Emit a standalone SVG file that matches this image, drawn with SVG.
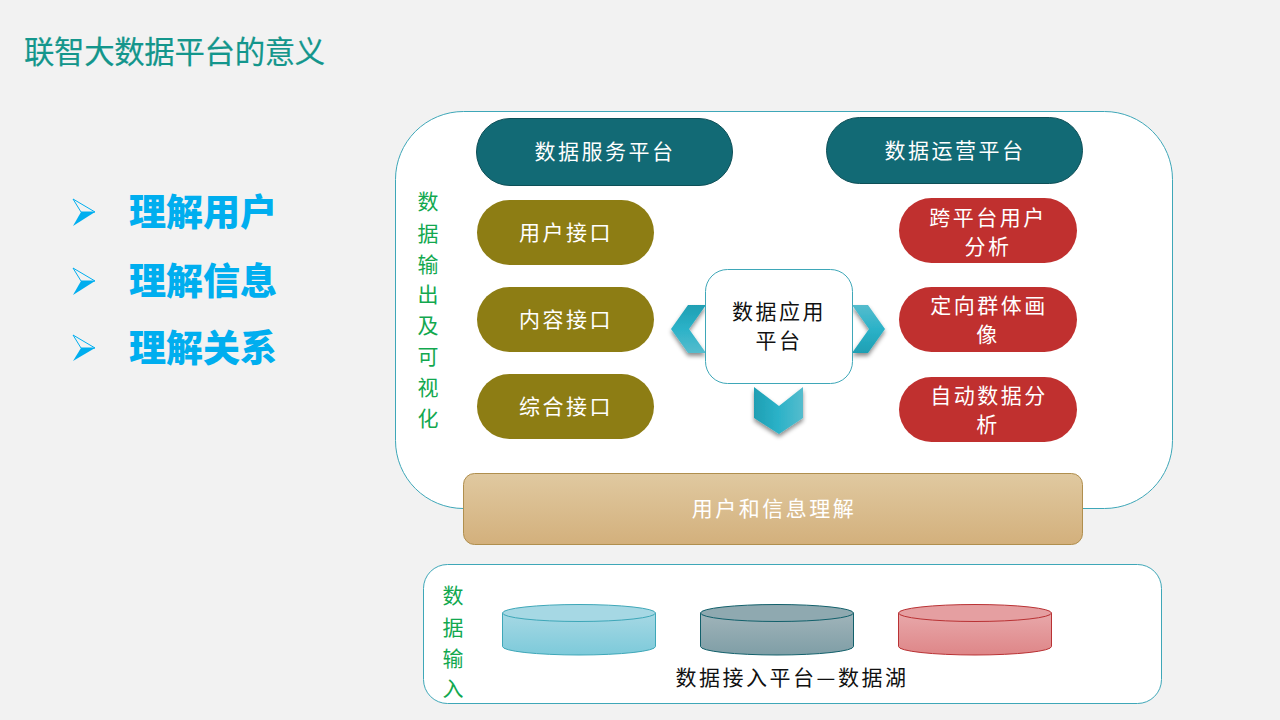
<svg xmlns="http://www.w3.org/2000/svg" width="1280" height="720" viewBox="0 0 1280 720">
<style>
text{font-family:"Noto Sans CJK SC","Noto Sans",sans-serif;text-anchor:middle}
.panel{fill:#fff;stroke:#3ea7b8;stroke-width:1}
.teal{fill:#126a75;stroke:#0d4f57;stroke-width:1}
.olive{fill:#8d7d14}
.red{fill:#c0302f}
.w{fill:#fff;font-size:21px;letter-spacing:2.500px}
.k{fill:#111;font-size:21px;letter-spacing:2.500px}
.g{fill:#12a84f;font-size:21px}
.b{fill:#00aeef;font-size:37px;font-weight:900;text-anchor:start}
.ar{fill:#f2f2f2;stroke:#00aeef;stroke-width:1}
.ar2{fill:#00aeef}
.chev{filter:url(#sh)}
</style>
<defs>
<linearGradient id="ch1" x1="0" y1="0" x2="0" y2="1"><stop offset="0" stop-color="#1f9fb3"/><stop offset="0.5" stop-color="#2bb2c8"/><stop offset="1" stop-color="#55bccd"/></linearGradient>
<linearGradient id="ch2" x1="0" y1="0" x2="0" y2="1"><stop offset="0" stop-color="#55bccd"/><stop offset="0.5" stop-color="#2bb2c8"/><stop offset="1" stop-color="#1f9fb3"/></linearGradient>
<linearGradient id="ch3" x1="0" y1="0" x2="1" y2="0"><stop offset="0" stop-color="#1f9fb3"/><stop offset="0.5" stop-color="#2bb2c8"/><stop offset="1" stop-color="#55bccd"/></linearGradient>
<linearGradient id="tan" x1="0" y1="0" x2="0" y2="1"><stop offset="0" stop-color="#e0c9a0"/><stop offset="1" stop-color="#d3b07c"/></linearGradient>
<linearGradient id="c1" x1="0" y1="0" x2="0" y2="1"><stop offset="0" stop-color="#a6d8e4"/><stop offset="1" stop-color="#7dcada"/></linearGradient>
<linearGradient id="c2" x1="0" y1="0" x2="0" y2="1"><stop offset="0" stop-color="#a0b4ba"/><stop offset="1" stop-color="#7f9ea6"/></linearGradient>
<linearGradient id="c3" x1="0" y1="0" x2="0" y2="1"><stop offset="0" stop-color="#e8a8aa"/><stop offset="1" stop-color="#de8688"/></linearGradient>
<filter id="sh" x="-30%" y="-30%" width="160%" height="160%"><feDropShadow dx="0" dy="3" stdDeviation="2" flood-color="#000" flood-opacity="0.45"/></filter>
</defs>
<rect width="1280" height="720" fill="#f2f2f2"/>
<text id="title" x="24" y="63" style="text-anchor:start;font-size:30.400px;fill:#13968c;stroke:#13968c;stroke-width:0.200px;letter-spacing:-0.300px">联智大数据平台的意义</text>

<g id="item-1"><path class="ar" d="M73 199L95 212L81 212Z"/><path class="ar2" d="M95 212L73 226L81 212Z"/><text class="b" x="129" y="226">理解用户</text></g>
<g id="item-2"><path class="ar" d="M73 268L95 281L81 281Z"/><path class="ar2" d="M95 281L73 295L81 281Z"/><text class="b" x="129" y="295">理解信息</text></g>
<g id="item-3"><path class="ar" d="M73 335L95 348L81 348Z"/><path class="ar2" d="M95 348L73 361L81 348Z"/><text class="b" x="129" y="362">理解关系</text></g>

<g id="output-panel"><rect class="panel" x="395.500" y="111.500" width="777" height="397" rx="68" ry="68"/>
<text class="g"><tspan x="428" y="209">数</tspan><tspan x="428" y="241">据</tspan><tspan x="428" y="272">输</tspan><tspan x="428" y="302">出</tspan><tspan x="428" y="333">及</tspan><tspan x="428" y="364">可</tspan><tspan x="428" y="395">视</tspan><tspan x="428" y="426">化</tspan></text></g>

<g id="data-service"><rect class="teal" x="476.500" y="118.500" width="256" height="67" rx="33.500"/><text class="w" x="605" y="159">数据服务平台</text></g>
<g id="data-ops"><rect class="teal" x="826.500" y="117.500" width="256" height="66" rx="33"/><text class="w" x="955" y="158">数据运营平台</text></g>

<g id="api-user"><rect class="olive" x="477" y="200" width="177" height="65" rx="32.500"/><text class="w" x="566" y="240">用户接口</text></g>
<g id="api-content"><rect class="olive" x="477" y="287" width="177" height="65" rx="32.500"/><text class="w" x="566" y="327">内容接口</text></g>
<g id="api-all"><rect class="olive" x="477" y="374" width="177" height="65" rx="32.500"/><text class="w" x="566" y="414">综合接口</text></g>

<g id="cross-user"><rect class="red" x="899" y="198" width="178" height="65" rx="32.500"/><text class="w"><tspan x="988" y="225">跨平台用户</tspan><tspan x="988" y="254">分析</tspan></text></g>
<g id="group-portrait"><rect class="red" x="899" y="287" width="178" height="65" rx="32.500"/><text class="w"><tspan x="989" y="313">定向群体画</tspan><tspan x="988" y="342">像</tspan></text></g>
<g id="auto-analysis"><rect class="red" x="899" y="377" width="178" height="65" rx="32.500"/><text class="w"><tspan x="989" y="403">自动数据分</tspan><tspan x="988" y="432">析</tspan></text></g>

<g id="connectors">
<polygon class="chev" fill="url(#ch1)" points="688,305 706,305 689,329 706,353 688,353 671,329"/>
<polygon class="chev" fill="url(#ch2)" points="852,305 868,305 885,329 868,353 852,353 869,329"/>
<polygon class="chev" fill="url(#ch3)" points="754,387 779,406 803,387 803,418 779,434 754,418"/>
</g>

<g id="app-platform"><rect x="705.500" y="269.500" width="147" height="114" rx="22" fill="#fff" stroke="#3ea7b8"/><text class="k"><tspan x="779" y="319">数据应用</tspan><tspan x="779" y="348">平台</tspan></text></g>

<g id="understanding"><rect x="463.500" y="473.500" width="619" height="71" rx="11" fill="url(#tan)" stroke="#b08f4e"/><text class="w" x="774" y="516">用户和信息理解</text></g>

<g id="input-panel"><rect class="panel" x="423.500" y="564.500" width="738" height="139" rx="24"/>
<text class="g"><tspan x="453" y="603">数</tspan><tspan x="453" y="635">据</tspan><tspan x="453" y="666">输</tspan><tspan x="453" y="696">入</tspan></text>
<text class="k" x="792" y="685">数据接入平台—数据湖</text></g>

<g id="db-1"><path d="M502.500 613V646.500A76.500 8.500 0 0 0 655.500 646.500V613Z" fill="url(#c1)" stroke="#3ea7b8"/><ellipse cx="579" cy="613" rx="76.500" ry="8.500" fill="#a6d8e4" stroke="#3ea7b8"/></g>
<g id="db-2"><path d="M700.500 613V646.500A76.500 8.500 0 0 0 853.500 646.500V613Z" fill="url(#c2)" stroke="#12606b"/><ellipse cx="777" cy="613" rx="76.500" ry="8.500" fill="#8fa9b0" stroke="#12606b"/></g>
<g id="db-3"><path d="M898.500 613V646.500A76.500 8.500 0 0 0 1051.500 646.500V613Z" fill="url(#c3)" stroke="#b93234"/><ellipse cx="975" cy="613" rx="76.500" ry="8.500" fill="#e59fa1" stroke="#b93234"/></g>
</svg>
